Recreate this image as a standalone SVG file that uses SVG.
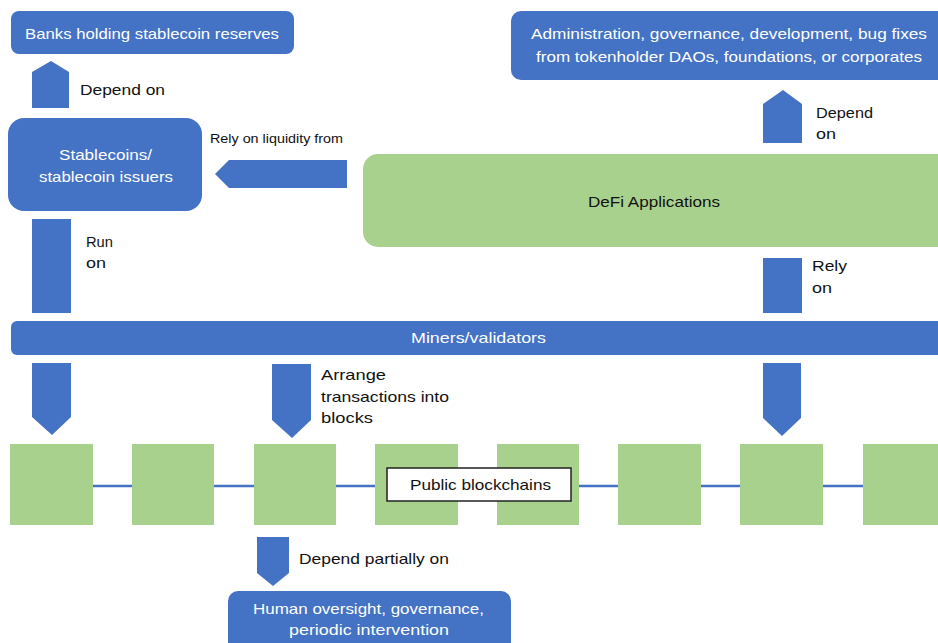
<svg xmlns="http://www.w3.org/2000/svg" width="938" height="643" viewBox="0 0 938 643">
<style>
.blue{fill:#4472C4;}
.green{fill:#A9D18E;}
text{font-family:"Liberation Sans",Arial,sans-serif;font-size:15px;}
.w{fill:#FFFFFF;}
.k{fill:#111111;}
.line{stroke:#4472C4;stroke-width:2.5;fill:none;}
</style>
<rect x="0" y="0" width="938" height="643" fill="#FFFFFF"/>

<g id="connectors">
  <line class="line" x1="93" y1="486" x2="132" y2="486"/>
  <line class="line" x1="214" y1="486" x2="254" y2="486"/>
  <line class="line" x1="336" y1="486" x2="375" y2="486"/>
  <line class="line" x1="458" y1="486" x2="497" y2="486"/>
  <line class="line" x1="579" y1="486" x2="618" y2="486"/>
  <line class="line" x1="701" y1="486" x2="740" y2="486"/>
  <line class="line" x1="823" y1="486" x2="863" y2="486"/>
  <polygon class="blue" points="32,72 51,61 69,72 69,108 32,108"/>
  <text class="k" x="80" y="95" textLength="85" lengthAdjust="spacingAndGlyphs">Depend on</text>
  <polygon class="blue" points="215,174 229,160 347,160 347,188 229,188"/>
  <text class="k" x="210" y="143" style="font-size:12px" textLength="133" lengthAdjust="spacingAndGlyphs">Rely on liquidity  from</text>
  <rect class="blue" x="32" y="219" width="39" height="94"/>
  <text class="k" x="86" y="247" textLength="27" lengthAdjust="spacingAndGlyphs">Run</text>
  <text class="k" x="86" y="268" textLength="20" lengthAdjust="spacingAndGlyphs">on</text>
  <polygon class="blue" points="763,104 783,90 802,104 802,143 763,143"/>
  <text class="k" x="816" y="118" textLength="57" lengthAdjust="spacingAndGlyphs">Depend</text>
  <text class="k" x="816" y="139" textLength="20" lengthAdjust="spacingAndGlyphs">on</text>
  <rect class="blue" x="763" y="258" width="39" height="55"/>
  <text class="k" x="812" y="271" textLength="35" lengthAdjust="spacingAndGlyphs">Rely</text>
  <text class="k" x="812" y="293" textLength="20" lengthAdjust="spacingAndGlyphs">on</text>
  <polygon class="blue" points="32,363 71,363 71,417 52,435 32,417"/>
  <polygon class="blue" points="272,364 311,364 311,420 292,438 272,420"/>
  <text class="k" x="321" y="380" textLength="65" lengthAdjust="spacingAndGlyphs">Arrange</text>
  <text class="k" x="321" y="402" textLength="128" lengthAdjust="spacingAndGlyphs">transactions into</text>
  <text class="k" x="321" y="423" textLength="52" lengthAdjust="spacingAndGlyphs">blocks</text>
  <polygon class="blue" points="763,363 801,363 801,418 782,436 763,418"/>
  <polygon class="blue" points="257,537 289,537 289,573 273,586 257,573"/>
  <text class="k" x="299" y="564" textLength="150" lengthAdjust="spacingAndGlyphs">Depend partially on</text>
</g>

<g id="banks">
  <rect class="blue" x="11" y="11" width="283" height="43" rx="8"/>
  <text class="w" x="25" y="39" textLength="254" lengthAdjust="spacingAndGlyphs">Banks holding stablecoin reserves</text>
</g>

<g id="stablecoins">
  <rect class="blue" x="8" y="118" width="194" height="93" rx="16"/>
  <text class="w" x="59" y="160" textLength="93" lengthAdjust="spacingAndGlyphs">Stablecoins/</text>
  <text class="w" x="39" y="182" textLength="134" lengthAdjust="spacingAndGlyphs">stablecoin issuers</text>
</g>

<g id="admin">
  <rect class="blue" x="511" y="11" width="440" height="69" rx="10"/>
  <text class="w" x="531" y="39" textLength="396" lengthAdjust="spacingAndGlyphs">Administration, governance,  development, bug fixes</text>
  <text class="w" x="536" y="62" textLength="386" lengthAdjust="spacingAndGlyphs">from tokenholder DAOs, foundations, or corporates</text>
</g>

<g id="defi">
  <rect class="green" x="363" y="154" width="590" height="93" rx="15"/>
  <text class="k" x="588" y="207" textLength="132" lengthAdjust="spacingAndGlyphs">DeFi Applications</text>
</g>

<g id="miners">
  <rect class="blue" x="11" y="321" width="940" height="34" rx="6"/>
  <text class="w" x="411" y="343" textLength="135" lengthAdjust="spacingAndGlyphs">Miners/validators</text>
</g>

<g id="blocks">
  <rect class="green" x="10" y="444" width="83" height="81"/>
  <rect class="green" x="132" y="444" width="82" height="81"/>
  <rect class="green" x="254" y="444" width="82" height="81"/>
  <rect class="green" x="375" y="444" width="83" height="81"/>
  <rect class="green" x="497" y="444" width="82" height="81"/>
  <rect class="green" x="618" y="444" width="83" height="81"/>
  <rect class="green" x="740" y="444" width="83" height="81"/>
  <rect class="green" x="863" y="444" width="83" height="81"/>
</g>

<g id="public-blockchains">
  <rect x="387" y="468" width="184" height="33" fill="#FFFFFF" stroke="#222222" stroke-width="1.5"/>
  <text class="k" x="410" y="490" textLength="141" lengthAdjust="spacingAndGlyphs">Public blockchains</text>
</g>

<g id="human">
  <rect class="blue" x="228" y="591" width="283" height="70" rx="10"/>
  <text class="w" x="253" y="614" textLength="231" lengthAdjust="spacingAndGlyphs">Human oversight, governance,</text>
  <text class="w" x="289" y="635" textLength="160" lengthAdjust="spacingAndGlyphs">periodic intervention</text>
</g>
</svg>
